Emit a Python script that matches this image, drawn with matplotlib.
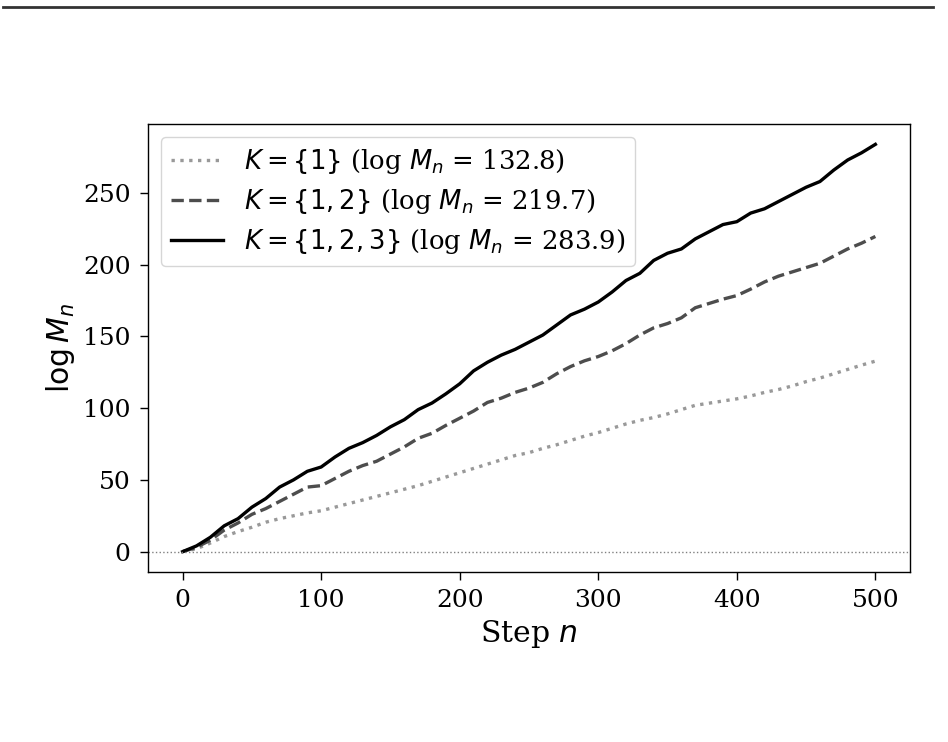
import numpy as np
import matplotlib
matplotlib.use("Agg")
import matplotlib.pyplot as plt
from matplotlib.lines import Line2D

plt.rcParams['font.family'] = 'DejaVu Serif'
plt.rcParams['mathtext.fontset'] = 'dejavusans'

steps = np.arange(0, 501, 10)

# K = {1}
log_m_k1 = [0, 2, 6, 10.5, 14, 17, 20.5, 23, 25, 27, 28.5, 31, 33.5, 36, 38.5, 41,
            43.5, 46, 49, 52, 55, 58, 61, 64, 67, 69, 72, 74.5, 77.5, 80.5, 83, 86,
            89, 91.5, 93.5, 96, 99, 102, 103.5, 105, 106.5, 108.5, 111, 113, 115.5,
            118.5, 121, 124, 127, 130, 132.8]
# K = {1, 2}
log_m_k12 = [0, 3, 8, 15, 20, 26, 30, 35, 40, 45, 46, 51, 56, 60, 63, 68, 73, 79,
             82.5, 88, 93, 98, 104, 107, 111, 114, 118, 124, 129, 133, 136, 140, 145,
             151, 156, 159, 163, 170, 173, 176, 178.5, 183, 188, 192, 195, 198, 201,
             206, 211, 215, 219.7]
# K = {1, 2, 3}
log_m_k123 = [0, 4, 10, 18, 23, 31, 37, 45, 50, 56, 59, 66, 72, 76, 81, 87, 92, 99,
              103.6, 110, 117, 126, 132, 137, 141, 146, 151, 158, 165, 169, 174, 181,
              189, 194, 203, 208, 211, 218, 223, 228, 230, 236, 239, 244, 249, 254,
              258, 266, 273, 278, 283.9]

labels = [r"$K=\{1\}$ (log $M_n$ = 132.8)",
          r"$K=\{1,2\}$ (log $M_n$ = 219.7)",
          r"$K=\{1,2,3\}$ (log $M_n$ = 283.9)"]

fig = plt.figure(figsize=(9.48, 7.42), dpi=100)
ax = fig.add_axes([148 / 948, 1 - 572 / 742, 762 / 948, 448 / 742])

ax.plot(steps, log_m_k1, linestyle=':', color='#999999', lw=2.4, label=labels[0])
ax.plot(steps, log_m_k12, linestyle='--', color='#4d4d4d', lw=2.4, label=labels[1])
ax.plot(steps, log_m_k123, linestyle='-', color='black', lw=2.4, label=labels[2])
ax.axhline(0, color='gray', linestyle=':', lw=1.0)

ax.set_xlabel("Step $n$", fontsize=21.5)
ax.set_ylabel(r"$\log M_n$", fontsize=21.5)
ax.tick_params(labelsize=18, length=5.5, width=1, pad=7)
for s in ax.spines.values():
    s.set_linewidth(1)
ax.legend(loc='upper left', fontsize=18.6, labelspacing=0.42)

# rule across the top of the page
fig.add_artist(Line2D([3 / 948, 933 / 948], [1 - 7 / 742, 1 - 7 / 742],
                      color='#333333', lw=2))

fig.savefig("out.png", dpi=100)
